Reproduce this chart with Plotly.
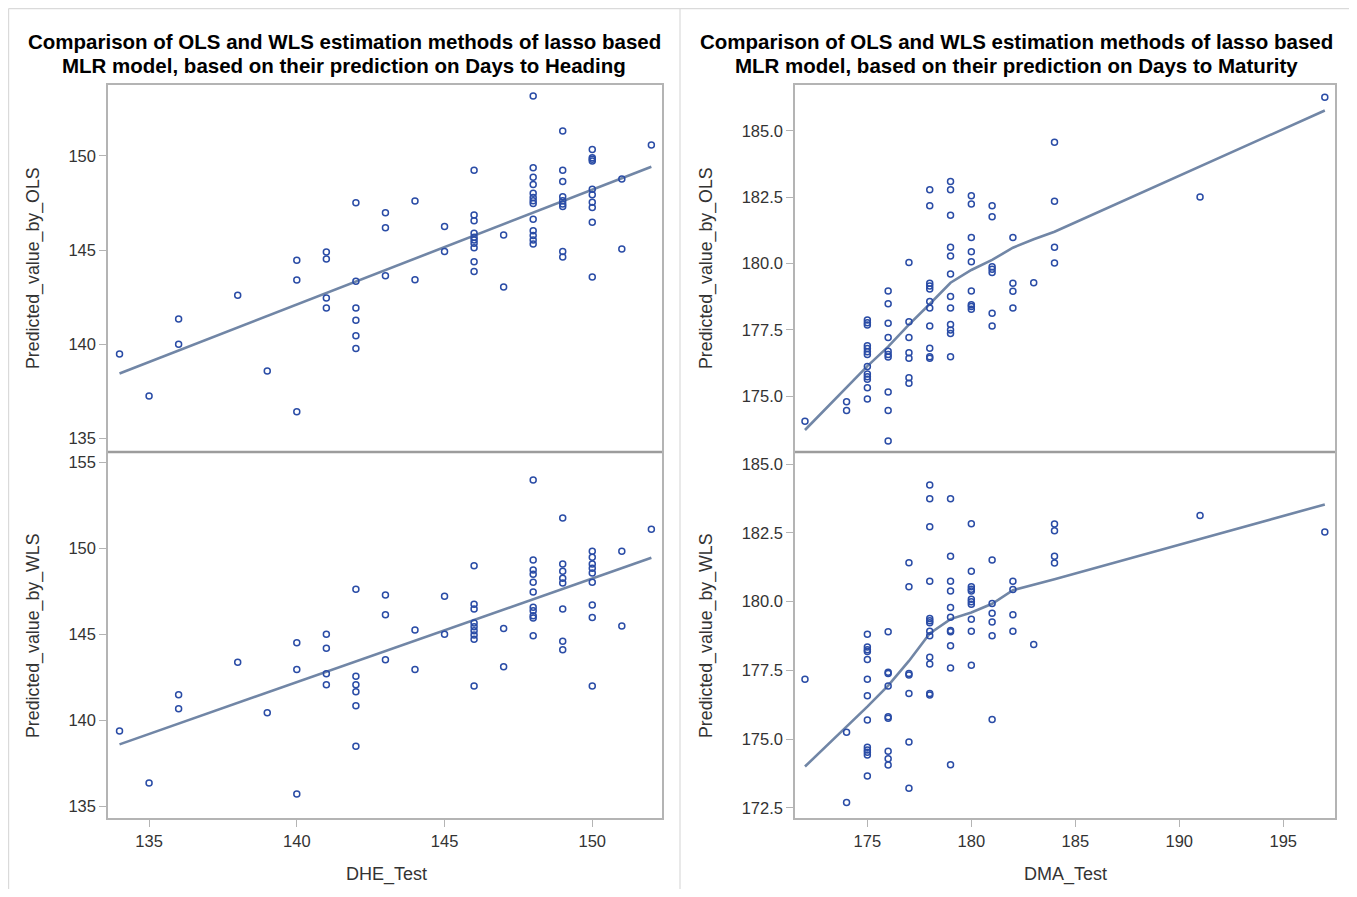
import plotly.graph_objects as go

# ---------------- data ----------------
dhe_levels = [134, 135, 136, 138, 139, 140, 141, 142, 143, 144, 145, 146, 147, 148, 149, 150, 151, 152]
ols_dhe = [
    [139.48],
    [137.25],
    [141.34, 140.0],
    [142.6],
    [138.58],
    [144.46, 143.41, 136.42],
    [144.9, 144.53, 142.45, 141.92],
    [147.52, 143.34, 141.92, 141.27, 140.45, 139.78],
    [146.99, 146.19, 143.64],
    [147.61, 143.43],
    [146.26, 144.92],
    [149.24, 146.86, 146.56, 145.89, 145.68, 145.54, 145.36, 145.13, 144.38, 143.87],
    [145.8, 143.04],
    [153.19, 149.38, 148.87, 148.49, 148.02, 147.8, 147.62, 147.48, 146.64, 146.03, 145.77, 145.54, 145.32],
    [151.33, 149.24, 148.64, 147.84, 147.62, 147.45, 147.31, 144.92, 144.63],
    [150.35, 149.91, 149.82, 149.73, 148.23, 147.94, 147.54, 147.27, 146.48, 143.57],
    [148.78, 145.06],
    [150.58],
]
wls_dhe = [
    [139.38],
    [136.35],
    [141.49, 140.67],
    [143.37],
    [140.44],
    [144.51, 142.96, 135.72],
    [145.0, 144.19, 142.71, 142.07],
    [147.62, 142.56, 142.07, 141.66, 140.85, 138.49],
    [147.28, 146.14, 143.52],
    [145.25, 142.96],
    [147.21, 145.0],
    [148.99, 146.74, 146.47, 145.66, 145.44, 145.21, 144.96, 144.71, 141.99],
    [145.33, 143.12],
    [153.97, 149.32, 148.74, 148.49, 148.02, 147.46, 146.57, 146.37, 146.08, 145.95, 144.92],
    [151.76, 149.09, 148.66, 148.26, 147.98, 146.47, 144.59, 144.1],
    [149.83, 149.48, 149.09, 148.84, 148.56, 148.02, 146.7, 145.97, 141.99],
    [149.83, 145.48],
    [151.1],
]
dhe_fit_x = [134, 152]
ols_dhe_fit = [138.45, 149.43]
wls_dhe_fit = [138.6, 149.45]

dma_levels = [172, 174, 175, 176, 177, 178, 179, 180, 181, 182, 183, 184, 191, 197]
ols_dma = [
    [174.06],
    [174.8, 174.47],
    [177.88, 177.77, 177.69, 176.91, 176.8, 176.68, 176.58, 176.12, 175.84, 175.74, 175.64, 175.32, 174.9],
    [178.97, 178.49, 177.75, 177.22, 176.7, 176.58, 176.48, 175.16, 174.47, 173.32],
    [180.04, 177.81, 177.22, 176.64, 176.43, 175.7, 175.49],
    [182.78, 182.18, 179.26, 179.16, 179.04, 178.57, 178.33, 177.65, 176.81, 176.49, 176.43],
    [183.09, 182.78, 181.82, 180.62, 180.29, 179.61, 178.76, 178.33, 177.71, 177.5, 177.37, 176.49],
    [182.56, 182.25, 180.98, 180.45, 180.07, 178.97, 178.45, 178.38, 178.28],
    [182.18, 181.77, 179.88, 179.79, 179.67, 178.13, 177.65],
    [180.98, 179.26, 178.96, 178.33],
    [179.28],
    [184.57, 182.35, 180.62, 180.02],
    [182.51],
    [186.27],
]
wls_dma = [
    [177.17],
    [175.25, 172.69],
    [178.81, 178.35, 178.25, 178.18, 177.89, 177.17, 176.57, 175.69, 174.7, 174.6, 174.52, 174.42, 173.66],
    [178.9, 177.43, 177.38, 176.93, 175.81, 175.76, 174.56, 174.28, 174.06],
    [181.41, 180.54, 177.38, 177.33, 176.66, 174.89, 173.21],
    [184.24, 183.74, 182.72, 180.74, 179.38, 179.3, 179.23, 178.92, 178.76, 177.97, 177.73, 176.66, 176.6],
    [183.74, 181.65, 180.74, 180.38, 179.78, 179.43, 178.95, 178.9, 178.39, 177.58, 174.07],
    [182.83, 181.1, 180.54, 180.45, 180.38, 180.08, 179.99, 179.9, 179.36, 178.92, 177.68],
    [181.51, 179.93, 179.57, 179.26, 178.76, 175.71],
    [180.74, 180.44, 179.52, 178.92],
    [178.44],
    [182.82, 182.57, 181.65, 181.4],
    [183.13],
    [182.53],
]
dma_fit_x = [172, 174, 175, 176, 177, 178, 179, 180, 181, 182, 183, 184, 191, 197]
ols_dma_fit = [173.73, 175.35, 176.14, 176.87, 177.7, 178.48, 179.28, 179.76, 180.14, 180.6, 180.92, 181.2, 183.65, 185.77]
wls_dma_fit = [174.0, 175.45, 176.18, 176.94, 177.84, 178.84, 179.36, 179.6, 179.92, 180.41, 180.6, 180.81, 182.27, 183.53]

title_lines = [
    ["Comparison of OLS and WLS estimation methods of lasso based",
     "MLR model, based on their prediction on Days to Heading"],
    ["Comparison of OLS and WLS estimation methods of lasso based",
     "MLR model, based on their prediction on Days to Maturity"],
]
y_titles = ["Predicted_value_by_OLS", "Predicted_value_by_WLS"]
x_titles = ["DHE_Test", "DMA_Test"]

# ---------------- helpers ----------------
# the page body has an 8px margin, so the figure is placed at (8, 8)
OFF = 8
W, H = 1357 - 2 * OFF, 897 - 2 * OFF
def px(x):
    return (x - OFF) / W
def py(y):
    return 1 - (y - OFF) / H

def expand(levels, groups):
    xs, ys = [], []
    for lv, g in zip(levels, groups):
        for v in g:
            xs.append(lv)
            ys.append(v)
    return xs, ys

MARKER = dict(symbol="circle-open", size=6, color="#2a4ca6", line=dict(width=1.5, color="#2a4ca6"))
FITLINE = dict(color="#7186a6", width=2.6)
FONT = "Liberation Sans, Arial, sans-serif"

fig = go.Figure()
panels = [
    (dhe_levels, ols_dhe, dhe_fit_x, ols_dhe_fit, "x", "y"),
    (dhe_levels, wls_dhe, dhe_fit_x, wls_dhe_fit, "x2", "y2"),
    (dma_levels, ols_dma, dma_fit_x, ols_dma_fit, "x3", "y3"),
    (dma_levels, wls_dma, dma_fit_x, wls_dma_fit, "x4", "y4"),
]
for lv, grp, fx, fy, xa, ya in panels:
    xs, ys = expand(lv, grp)
    fig.add_trace(go.Scatter(x=fx, y=fy, mode="lines", line=FITLINE, xaxis=xa, yaxis=ya,
                             showlegend=False, hoverinfo="skip"))
    fig.add_trace(go.Scatter(x=xs, y=ys, mode="markers", marker=MARKER, xaxis=xa, yaxis=ya,
                             showlegend=False))

FRAME = "#b4b4b4"
TICKFONT = dict(family=FONT, size=16.5, color="#333333")
def ax(**kw):
    base = dict(showline=True, mirror=True, linecolor=FRAME, linewidth=1.5, showgrid=False,
                zeroline=False, ticks="outside", ticklen=7, tickcolor=FRAME, tickwidth=1,
                tickfont=TICKFONT, fixedrange=True)
    base.update(kw)
    return base

left_dom = [px(108), px(662)]
right_dom = [px(795), px(1335)]
top_dom = [py(451), py(85)]
bot_dom = [py(818), py(453)]

fig.update_layout(
    width=W, height=H, margin=dict(l=0, r=0, t=0, b=0),
    paper_bgcolor="white", plot_bgcolor="white",
    font=dict(family=FONT),
    xaxis=ax(domain=left_dom, anchor="y", range=[133.61, 152.36], ticks="", showticklabels=False),
    yaxis=ax(domain=top_dom, anchor="x", range=[134.33, 153.77], tickvals=[135, 140, 145, 150]),
    xaxis2=ax(domain=left_dom, anchor="y2", range=[133.61, 152.36], tickvals=[135, 140, 145, 150]),
    yaxis2=ax(domain=bot_dom, anchor="x2", range=[134.32, 155.54], tickvals=[135, 140, 145, 150, 155]),
    xaxis3=ax(domain=right_dom, anchor="y3", range=[171.52, 197.49], ticks="", showticklabels=False),
    yaxis3=ax(domain=top_dom, anchor="x3", range=[172.94, 186.73],
              tickvals=[175, 177.5, 180, 182.5, 185], tickformat=".1f"),
    xaxis4=ax(domain=right_dom, anchor="y4", range=[171.52, 197.49], tickvals=[175, 180, 185, 190, 195]),
    yaxis4=ax(domain=bot_dom, anchor="x4", range=[172.13, 185.40],
              tickvals=[172.5, 175, 177.5, 180, 182.5, 185], tickformat=".1f"),
)

BORDER = dict(color="#dadada", width=1.2)
shapes = [
    dict(type="line", xref="paper", yref="paper", x0=px(8.6), x1=px(8.6), y0=0, y1=py(8.6), line=BORDER),
    dict(type="line", xref="paper", yref="paper", x0=px(8.6), x1=1, y0=py(8.6), y1=py(8.6), line=BORDER),
    dict(type="line", xref="paper", yref="paper", x0=px(680), x1=px(680), y0=0, y1=py(8.6), line=BORDER),
    dict(type="line", xref="paper", yref="paper", x0=px(108), x1=px(662), y0=py(452), y1=py(452),
         line=dict(color="#9c9c9c", width=2.5)),
    dict(type="line", xref="paper", yref="paper", x0=px(795), x1=px(1335), y0=py(452), y1=py(452),
         line=dict(color="#9c9c9c", width=2.5)),
]
fig.update_layout(shapes=shapes)

ann = []
for i, cx in enumerate([344, 1016]):
    for line_text, cy in zip(title_lines[i], [41, 65]):
        ann.append(dict(xref="paper", yref="paper", x=px(cx), y=py(cy), text="<b>" + line_text + "</b>",
                        showarrow=False, xanchor="center", yanchor="middle",
                        font=dict(family=FONT, size=20.5, color="#000000")))
for cx, xt in zip([386, 1065], x_titles):
    ann.append(dict(xref="paper", yref="paper", x=px(cx), y=py(874), text=xt, showarrow=False,
                    xanchor="center", yanchor="middle", font=dict(family=FONT, size=18, color="#333333")))
for lx in [33, 706]:
    for cy, yt in zip([268, 636], y_titles):
        ann.append(dict(xref="paper", yref="paper", x=px(lx), y=py(cy), text=yt, showarrow=False,
                        textangle=-90, xanchor="center", yanchor="middle",
                        font=dict(family=FONT, size=17.8, color="#333333")))
fig.update_layout(annotations=ann)

fig.write_html("out.html")
